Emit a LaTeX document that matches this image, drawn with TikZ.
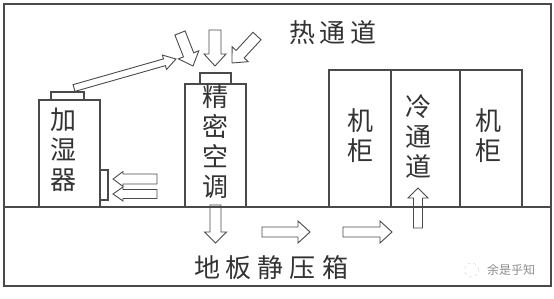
\documentclass[tikz,border=0pt]{standalone}
\usepackage{fontspec}
\newfontfamily\cjk{Noto Sans CJK SC}
\usetikzlibrary{calc, positioning}
\definecolor{linegray}{HTML}{4A4A4A}
\definecolor{textgray}{HTML}{333333}

% hollow block arrow: tail, tip, shaft half width, head half width, head length
\newcommand{\blockarrow}[5]{%
  \coordinate (neck) at ($(#2)!#5!(#1)$);
  \draw[flowarrow] ($(#1)!#3!90:(#2)$) -- ($(neck)!#3!-90:(#1)$)
    -- ($(neck)!#4!-90:(#1)$) -- (#2) -- ($(neck)!#4!90:(#1)$)
    -- ($(neck)!#3!90:(#1)$) -- ($(#1)!#3!-90:(#2)$) -- cycle;
}

\begin{document}
\begin{tikzpicture}[x=1pt, y=-1pt,
  frame/.style={draw=linegray, line width=1.4pt},
  unit/.style={draw=linegray, line width=1.1pt, inner sep=0pt, outer sep=0pt},
  flowarrow/.style={draw=linegray, line width=0.9pt, line join=miter},
  cn/.style={font=\cjk\fontsize{26}{30}\selectfont, text=textgray,
             align=center, inner sep=0pt}
]
\useasboundingbox (0,0) rectangle (554,299);

% room and raised floor
\draw[frame] (4,4) rectangle (551,286);
\draw[frame] (4,207) -- (551,207);

% humidifier
\node[unit, minimum width=61pt, minimum height=107pt, anchor=south west] (humid) at (39,207) {};
\node[unit, minimum width=33pt, minimum height=8pt, anchor=south] (humidcap) at (67.5,100) {};
\node[unit, minimum width=8pt, minimum height=30pt, anchor=south west] (vent) at (100,200) {};
\node[cn] (humidtxt) at (63,150) {加\\湿\\器};

% precision air conditioner
\node[unit, minimum width=61pt, minimum height=123pt, anchor=south west] (ac) at (185,207) {};
\node[unit, minimum width=31pt, minimum height=11pt, anchor=south] (accap) at (ac.north) {};
\node[cn] (actxt) at (215,141.5) {精\\密\\空\\调};

% racks and cold aisle
\node[unit, minimum width=62pt, minimum height=137pt, anchor=south west] (rackL) at (329,207) {};
\node[unit, minimum width=69pt, minimum height=137pt, anchor=south west] (aisle) at (rackL.south east) {};
\node[unit, minimum width=62pt, minimum height=137pt, anchor=south west] (rackR) at (aisle.south east) {};
\node[cn] (rackLtxt) at (360,136) {机\\柜};
\node[cn] (aisletxt) at (418,136) {冷\\通\\道};
\node[cn] (rackRtxt) at (488,136) {机\\柜};

% labels
\node[cn] (hot) at (333,33) {热\hspace{5pt}通\hspace{5pt}道};
\node[cn] (plenum) at (271,268) {地\hspace{6pt}板\hspace{6pt}静\hspace{6pt}压\hspace{6pt}箱};

% air flow
\coordinate (h1) at (74,88);    \coordinate (h2) at (176,59);
\coordinate (d1) at (180,33);   \coordinate (d2) at (193,66);
\coordinate (m1) at (215,30);   \coordinate (m2) at (215,66);
\coordinate (r1) at (257,36);   \coordinate (r2) at (232,63);
\coordinate (u1) at (157,179);  \coordinate (u2) at (113,179);
\coordinate (l1) at (157,194);  \coordinate (l2) at (113,194);
\coordinate (s1) at (215.5,205); \coordinate (s2) at (215.5,243);
\coordinate (f1) at (262,232);  \coordinate (f2) at (310,232);
\coordinate (g1) at (343,232);  \coordinate (g2) at (392,232);
\coordinate (c1) at (418,228);  \coordinate (c2) at (418,188);

\blockarrow{h1}{h2}{3.5pt}{7.5pt}{12pt}
\blockarrow{d1}{d2}{5.5pt}{11pt}{12pt}
\blockarrow{m1}{m2}{6pt}{11pt}{12pt}
\blockarrow{r1}{r2}{5.5pt}{11pt}{12pt}
\blockarrow{u1}{u2}{5pt}{7.5pt}{10pt}
\blockarrow{l1}{l2}{4.5pt}{7pt}{10pt}
\blockarrow{s1}{s2}{5.5pt}{11pt}{11pt}
\blockarrow{f1}{f2}{5pt}{11pt}{12pt}
\blockarrow{g1}{g2}{5pt}{11pt}{12pt}
\blockarrow{c1}{c2}{4.5pt}{10pt}{10pt}

% watermark
\node[font=\cjk\fontsize{12}{12}\selectfont, text=black!45, inner sep=0pt] (mark) at (511,270) {余是乎知};
\node[circle, draw=black!20, dashed, minimum size=14pt, left=8pt of mark] (logo) {};
\end{tikzpicture}
\end{document}
